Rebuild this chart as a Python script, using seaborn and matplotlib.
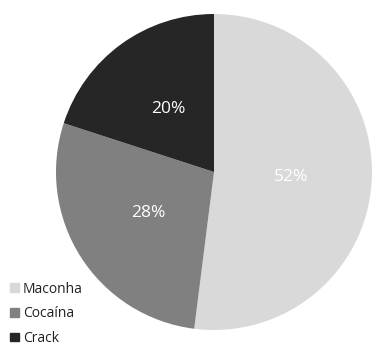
import matplotlib
matplotlib.use("Agg")
import matplotlib.pyplot as plt
import matplotlib.patches as mpatches
import seaborn as sns

categories = ["Maconha", "Cocaína", "Crack"]
values = [52, 28, 20]
colors = ["#d9d9d9", "#808080", "#262626"]

sns.set_theme(style="white")
plt.rcParams["font.family"] = ["Open Sans", "DejaVu Sans"]

fig = plt.figure(figsize=(3.72, 3.47), dpi=100)
ax = fig.add_axes([56 / 372, 17 / 347, 316 / 372, 316 / 347])

wedges, texts, autotexts = ax.pie(
    values,
    colors=colors,
    startangle=90,
    counterclock=False,
    autopct="%1.0f%%",
    pctdistance=0.49,
    wedgeprops=dict(linewidth=0),
    textprops=dict(color="white", fontsize=12.5),
)
ax.set_xlim(-1, 1)
ax.set_ylim(-1, 1)
ax.set_aspect("equal")

handles = [mpatches.Patch(color=c, label=l) for c, l in zip(colors, categories)]
fig.legend(
    handles=handles,
    loc="lower left",
    bbox_to_anchor=(0.02, -0.005),
    frameon=False,
    fontsize=10,
    labelcolor="#222222",
    handlelength=0.6,
    handleheight=0.6,
    handletextpad=0.3,
    labelspacing=0.7,
    borderpad=0.2,
    borderaxespad=0.0,
)

fig.savefig("out.png", dpi=100)
